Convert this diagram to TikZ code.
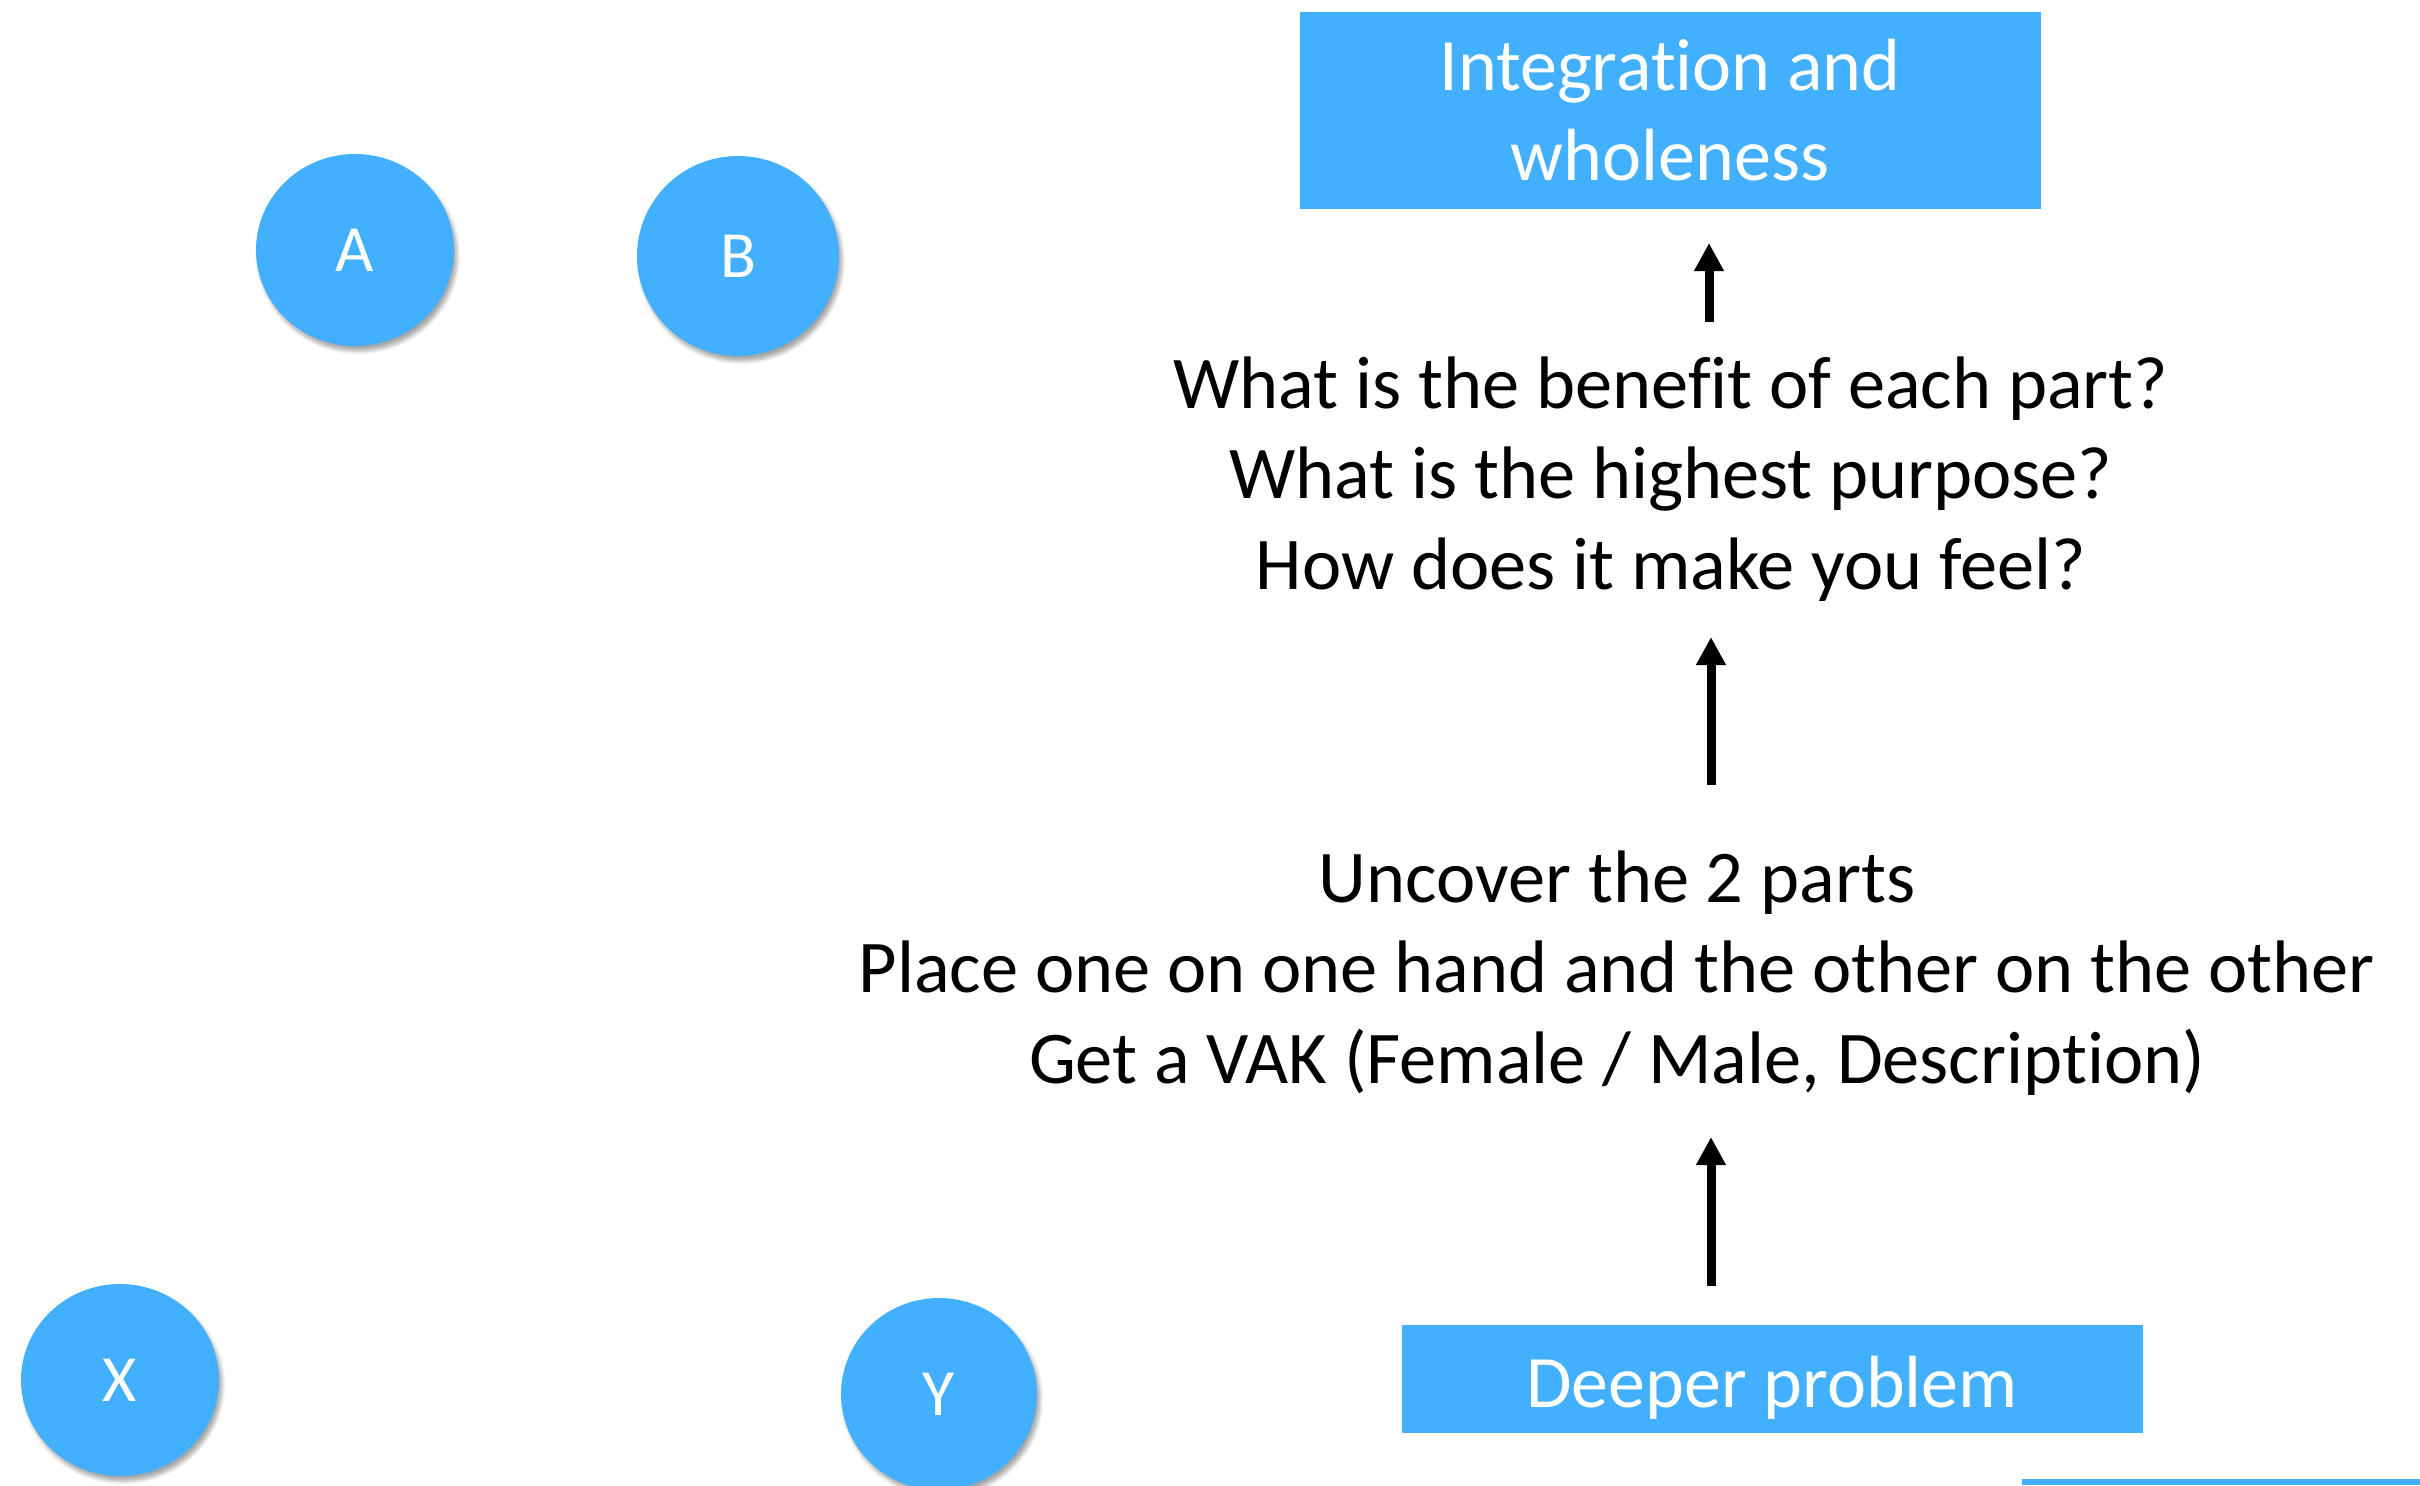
\documentclass[tikz,border=0pt]{standalone}
\usepackage{fontspec}
\setmainfont{Carlito}[Ligatures={NoCommon,NoRequired,NoContextual,NoRare}]
\usetikzlibrary{arrows.meta,shapes.geometric,shadows.blur}
\definecolor{boxblue}{RGB}{66,176,255}
\newcommand\myNoLig{\kern0pt }
\tikzset{
 bubble/.style={ellipse, fill=boxblue, text=white, font=\fontsize{33}{39}\selectfont, inner sep=0pt,
   blur shadow={shadow xshift=1.5pt, shadow yshift=-2.5pt, shadow blur steps=6, shadow opacity=35}},
 bluebox/.style={rectangle, fill=boxblue, text=white, font=\fontsize{37}{45}\selectfont, align=center, inner sep=0pt},
 steptext/.style={align=center, font=\fontsize{37.2}{45.3}\selectfont, inner sep=0pt},
 uparrow/.style={line width=4.5pt, -{Triangle[length=14pt,width=14pt]}},
}
\begin{document}
\begin{tikzpicture}[x=0.5pt,y=-0.5pt]
\useasboundingbox (0,0) rectangle (2420,1485);
% circles
\node[bubble, minimum width=99pt, minimum height=96pt] (A) at (355,250) {A};
\node[bubble, minimum width=101pt, minimum height=100pt] (B) at (738,256) {B};
\node[bubble, minimum width=99pt, minimum height=96pt] (X) at (120,1380) {X};
\node[bubble, minimum width=98pt, minimum height=96pt] (Y) at (939,1394) {Y};
% boxes
\node[bluebox, minimum width=370.5pt, minimum height=98.5pt] (top) at (1670,110) {Integrat\myNoLig ion and\\wholeness};
\node[bluebox, minimum width=370.5pt, minimum height=54pt, text height=28pt, text depth=0pt] (deep) at (1772,1379) {Deeper problem};
% texts
\node[steptext] (t1) at (1671,479) {What is the benef\myNoLig it of each part?\\What is the highest purpose?\\How does it make you feel?};
\node[steptext] (t2) at (1617,973) {Uncover the 2 parts\\Place one on one hand and the other on the other\\Get a VAK (Female / Male, Descript\myNoLig ion)};
% arrows
\coordinate (a1s) at (1709,322);
\coordinate (a1e) at (1709,243);
\coordinate (a2s) at (1711,785);
\coordinate (a2e) at (1711,637);
\coordinate (a3s) at (1711,1286);
\coordinate (a3e) at (1711,1137);
\draw[uparrow] (a1s) -- (a1e);
\draw[uparrow] (a2s) -- (a2e);
\draw[uparrow] (a3s) -- (a3e);
% bottom line
\fill[boxblue] (2022,1479) rectangle (2420,1485);
\end{tikzpicture}
\end{document}
